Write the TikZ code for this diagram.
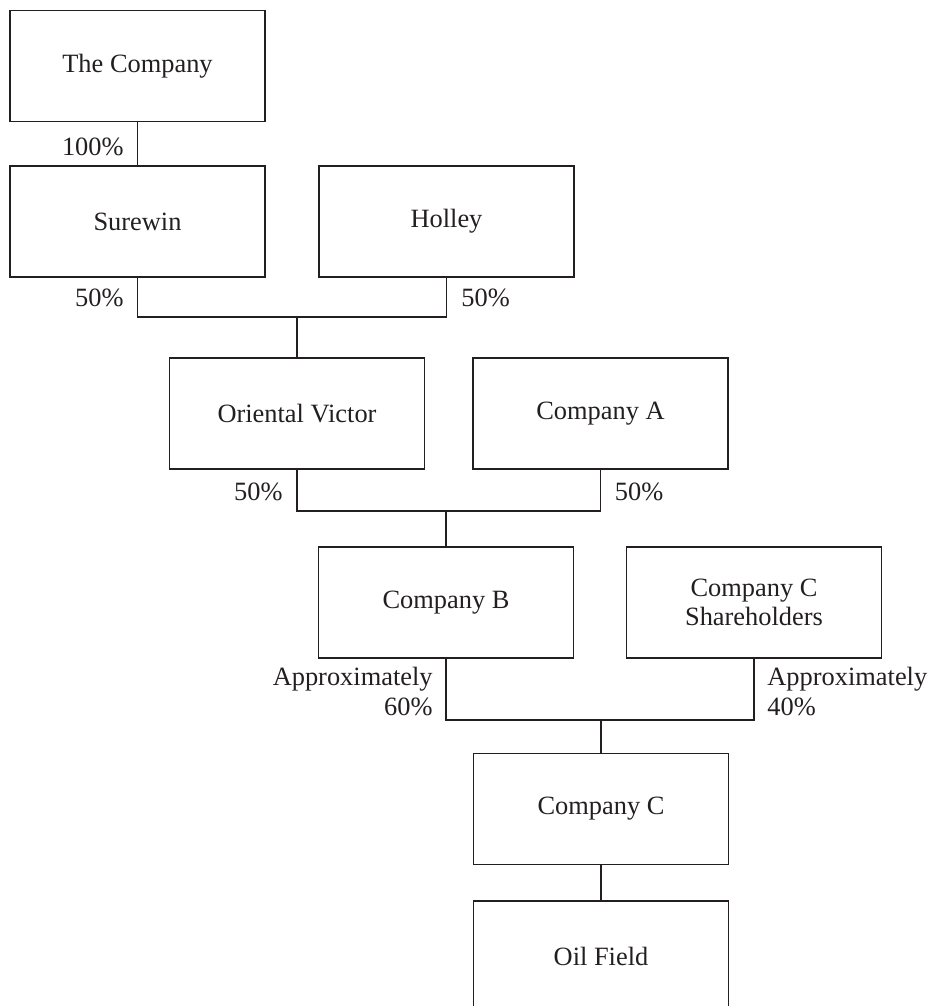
\documentclass[tikz,border=0pt]{standalone}
\usepackage{fontspec}
\setmainfont{Liberation Serif}
\usepackage{tikz}
\usetikzlibrary{positioning}
\definecolor{ink}{HTML}{231F20}
\tikzstyle{entity} = [rectangle, minimum width=127.5pt, minimum height=55.5pt, text centered, align=center, draw=ink, line width=0.7pt, text=ink, font=\fontsize{13.2}{14.5}\selectfont]
\tikzstyle{share} = [inner sep=0pt, text=ink, font=\fontsize{13.2}{15}\selectfont]
\tikzstyle{link} = [line width=0.7pt, draw=ink]

\begin{document}
\begin{tikzpicture}[x=0.5pt, y=-0.5pt]
        \useasboundingbox (0,0) rectangle (930,1006);
        \node (company) [entity] at (137.5,66) {The Company};
        \node (surewin) [entity] at (137.5,221.5) {Surewin};
        \node (holley) [entity] at (446.5,221.5) {Holley};
        \node (oriental) [entity] at (297,413.5) {Oriental Victor};
        \node (compA) [entity] at (600.5,413.5) {Company A};
        \node (compB) [entity] at (446,602.5) {Company B};
        \node (holders) [entity] at (754,602.5) {Company C\\Shareholders};
        \node (compC) [entity] at (601,809) {Company C};
        \node (oilfield) [entity] at (601,956.5) {Oil Field};

        \coordinate (join1) at (297,317);
        \coordinate (join2) at (446,511);
        \coordinate (join3) at (601,720);

        \draw [link] (company) -- (surewin);
        \draw [link] (surewin.south) |- (join1) -| (holley.south);
        \draw [link] (join1) -- (oriental.north);
        \draw [link] (oriental.south) |- (join2) -| (compA.south);
        \draw [link] (join2) -- (compB.north);
        \draw [link] (compB.south) |- (join3) -| (holders.south);
        \draw [link] (join3) -- (compC.north);
        \draw [link] (compC) -- (oilfield);

        \node (pct1) [share, anchor=east] at (124,147) {100\%};
        \node (pct2) [share, anchor=east] at (124,298) {50\%};
        \node (pct3) [share, anchor=west] at (461,298) {50\%};
        \node (pct4) [share, anchor=east] at (283,492) {50\%};
        \node (pct5) [share, anchor=west] at (614.5,492) {50\%};
        \node (pct6) [share, anchor=east, align=right] at (433,692) {Approximately\\60\%};
        \node (pct7) [share, anchor=west, align=left] at (767,692) {Approximately\\40\%};
    \end{tikzpicture}
\end{document}
